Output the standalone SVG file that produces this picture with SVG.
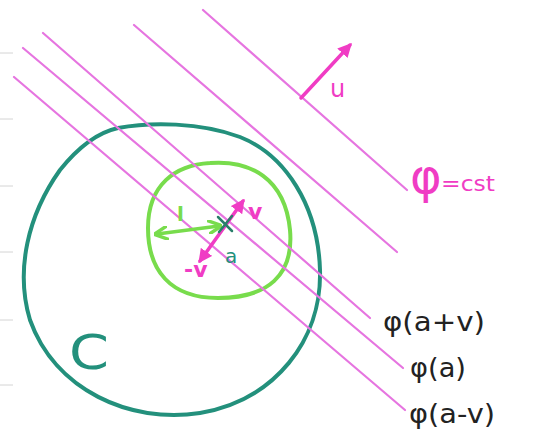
<svg xmlns="http://www.w3.org/2000/svg" width="533" height="432" viewBox="0 0 533 432">
<defs>
<style>
.level{stroke:#e675e0;stroke-width:2.2;fill:none;stroke-linecap:round}
.vec{stroke:#f03cc4;stroke-width:3.5;fill:none;stroke-linecap:round}
.gvec{stroke:#78dc4c;stroke-width:3.5;fill:none;stroke-linecap:round}
.lbl{font-family:"DejaVu Sans","Liberation Sans",sans-serif;fill:#222}
.mlbl{font-family:"DejaVu Sans","Liberation Sans",sans-serif;fill:#f03cc4}
.tick{stroke:#d4d4d4;stroke-width:1}
</style>
<marker id="mh" viewBox="0 0 10 10" refX="8" refY="5" markerWidth="4" markerHeight="4" orient="auto-start-reverse" markerUnits="strokeWidth">
<path d="M0,0 L10,5 L0,10 Z" fill="#f03cc4"/>
</marker>
<marker id="gh" viewBox="0 0 10 10" refX="8" refY="5" markerWidth="4" markerHeight="4" orient="auto-start-reverse" markerUnits="strokeWidth">
<path d="M0,0 L10,5 L0,10" fill="none" stroke="#78dc4c" stroke-width="2.5"/>
</marker>
</defs>
<rect width="533" height="432" fill="#fff"/>
<g id="scan-ticks">
<line class="tick" x1="0" y1="53" x2="13" y2="53"/>
<line class="tick" x1="0" y1="119" x2="13" y2="119"/>
<line class="tick" x1="0" y1="186" x2="13" y2="186"/>
<line class="tick" x1="0" y1="252" x2="13" y2="252"/>
<line class="tick" x1="0" y1="320" x2="13" y2="320"/>
<line class="tick" x1="0" y1="385" x2="13" y2="385"/>
</g>
<g id="region-C">
<path d="M118,128 C150,122 200,122 240,137 C285,155 318,205 320,270 C322,340 275,400 200,413 C130,424 55,390 30,320 C15,270 28,215 60,170 C80,145 100,132 118,128 Z" fill="none" stroke="#23907c" stroke-width="4"/>
<text x="69" y="369" font-family="DejaVu Sans, sans-serif" font-size="48" fill="#23907c" textLength="40" lengthAdjust="spacingAndGlyphs">C</text>
</g>
<g id="neighbourhood">
<path d="M210,163 C250,160 285,178 290,230 C294,275 268,298 218,298 C170,298 148,270 148,228 C148,185 175,165 210,163" fill="none" stroke="#78dc4c" stroke-width="4"/>
</g>
<g id="level-lines">
<line class="level" x1="203" y1="10" x2="407" y2="190"/>
<line class="level" x1="134" y1="25" x2="397" y2="252"/>
<line class="level" x1="43" y1="33" x2="370" y2="318"/>
<line class="level" x1="23" y1="48" x2="403" y2="368"/>
<line class="level" x1="14" y1="77" x2="405" y2="410"/>
</g>
<g id="connectors">
<line class="vec" x1="301" y1="98" x2="350" y2="45" marker-end="url(#mh)"/>
<line class="vec" x1="200" y1="261" x2="243" y2="201" marker-start="url(#mh)" marker-end="url(#mh)"/>
<line class="gvec" x1="157" y1="234" x2="219" y2="226" marker-start="url(#gh)" marker-end="url(#gh)"/>
</g>
<g id="point-a">
<path d="M218,217 L232,231 M232,216 L219,232" stroke="#2a7f6a" stroke-width="2.5" fill="none" stroke-linecap="round"/>
<text x="225" y="263" font-family="DejaVu Sans, sans-serif" font-size="20" fill="#23907c">a</text>
</g>
<g id="labels">
<text x="177" y="221" font-family="DejaVu Sans, sans-serif" font-size="20" font-weight="bold" fill="#78dc4c">l</text>
<text class="mlbl" x="248" y="219" font-size="22" font-weight="bold">v</text>
<text class="mlbl" x="184" y="277" font-size="22" font-weight="bold">-v</text>
<text class="mlbl" x="330" y="97" font-size="24">u</text>
<text class="mlbl" x="410" y="193" font-size="48">φ</text>
<text class="mlbl" x="441" y="191" font-size="22" textLength="54" lengthAdjust="spacingAndGlyphs">=cst</text>
<text class="lbl" x="383" y="331" font-size="27" textLength="102" lengthAdjust="spacingAndGlyphs">φ(a+v)</text>
<text class="lbl" x="410" y="377" font-size="27" textLength="56" lengthAdjust="spacingAndGlyphs">φ(a)</text>
<text class="lbl" x="409" y="423" font-size="27" textLength="86" lengthAdjust="spacingAndGlyphs">φ(a-v)</text>
</g>
</svg>
